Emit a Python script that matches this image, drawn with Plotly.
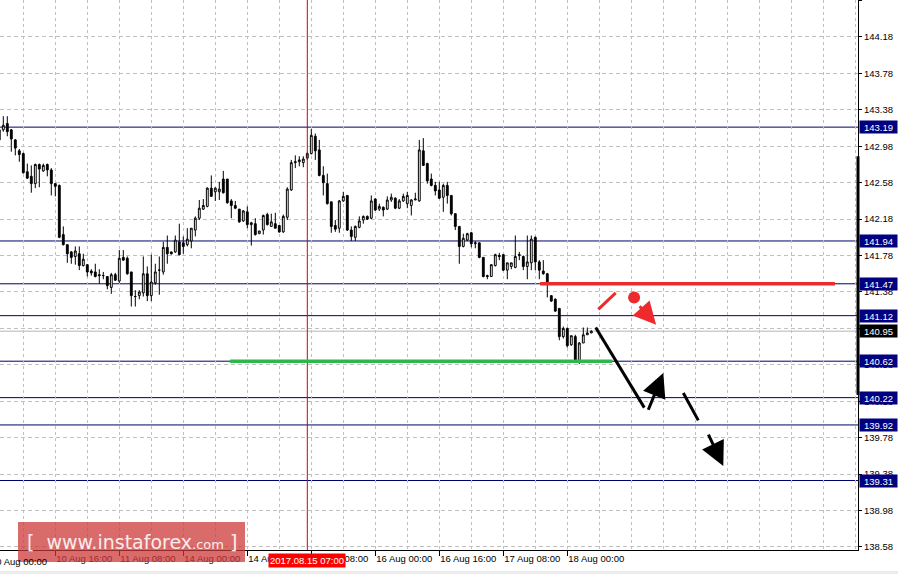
import plotly.graph_objects as go

# ---------------- data (H1 bars, index = bar number) ----------------
bar_index = list(range(-1, 148))
opens = [143.05, 143.16, 143.23, 143.16, 143.05, 142.93, 142.90, 142.70, 142.65, 142.57,
         142.78, 142.71, 142.78, 142.72, 142.57, 142.55, 142.01, 141.90, 141.82, 141.77,
         141.80, 141.67, 141.68, 141.61, 141.60, 141.57, 141.56, 141.55, 141.43, 141.57,
         141.50, 141.76, 141.75, 141.60, 141.33, 141.34, 141.37, 141.58, 141.34, 141.48,
         141.62, 141.60, 141.87, 141.82, 141.82, 141.93, 141.92, 141.90, 141.94, 142.06,
         142.19, 142.29, 142.32, 142.52, 142.48, 142.48, 142.62, 142.62, 142.38, 142.33,
         142.29, 142.16, 142.26, 142.12, 142.13, 142.02, 142.06, 142.23, 142.10, 142.13,
         142.11, 142.04, 142.20, 142.50, 142.80, 142.81, 142.80, 142.85, 142.90, 143.09,
         142.94, 142.66, 142.57, 142.37, 142.11, 142.08, 142.38, 142.44, 142.06, 141.98,
         142.09, 142.17, 142.21, 142.19, 142.40, 142.29, 142.31, 142.29, 142.39, 142.41,
         142.30, 142.38, 142.35, 142.33, 142.39, 142.38, 142.93, 142.79, 142.62, 142.55,
         142.50, 142.42, 142.55, 142.44, 142.24, 142.10, 141.88, 141.95, 142.03, 141.91,
         141.92, 141.76, 141.56, 141.55, 141.67, 141.78, 141.79, 141.62, 141.66, 141.65,
         141.78, 141.77, 141.66, 141.70, 141.98, 141.71, 141.61, 141.58, 141.34, 141.30,
         141.20, 140.89, 140.98, 140.80, 140.89, 140.61, 140.82, 140.91, 140.93]
highs = [143.21, 143.31, 143.31, 143.17, 143.06, 142.95, 142.91, 142.79, 142.77, 142.79,
         142.79, 142.79, 142.79, 142.74, 142.57, 142.56, 142.10, 141.90, 141.83, 141.88,
         141.88, 141.80, 141.68, 141.63, 141.69, 141.63, 141.60, 141.55, 141.59, 141.59,
         141.84, 141.84, 141.77, 141.60, 141.40, 141.40, 141.77, 141.66, 141.79, 141.69,
         141.77, 141.93, 142.00, 141.82, 142.00, 142.13, 141.99, 142.08, 142.08, 142.21,
         142.39, 142.40, 142.53, 142.66, 142.53, 142.59, 142.71, 142.62, 142.40, 142.38,
         142.29, 142.28, 142.32, 142.15, 142.19, 142.05, 142.23, 142.25, 142.24, 142.25,
         142.11, 142.23, 142.53, 142.83, 142.88, 142.87, 142.87, 142.92, 143.17, 143.12,
         143.05, 142.76, 142.68, 142.37, 142.17, 142.39, 142.48, 142.44, 142.10, 142.11,
         142.21, 142.22, 142.22, 142.44, 142.41, 142.35, 142.32, 142.43, 142.46, 142.42,
         142.40, 142.46, 142.48, 142.40, 142.47, 143.05, 143.07, 142.80, 142.68, 142.59,
         142.59, 142.57, 142.59, 142.44, 142.24, 142.10, 142.02, 142.03, 142.04, 141.94,
         141.92, 141.76, 141.57, 141.68, 141.80, 141.81, 141.79, 141.70, 141.70, 142.00,
         141.82, 141.78, 142.00, 142.00, 141.99, 141.73, 141.73, 141.59, 141.34, 141.31,
         141.20, 141.00, 140.99, 140.90, 140.91, 140.83, 140.99, 140.99, 140.96]
lows = [143.03, 143.14, 143.09, 142.92, 142.88, 142.81, 142.68, 142.62, 142.47, 142.52,
        142.53, 142.70, 142.65, 142.44, 142.43, 141.97, 141.89, 141.70, 141.69, 141.68,
        141.62, 141.66, 141.55, 141.56, 141.54, 141.47, 141.52, 141.41, 141.36, 141.50,
        141.48, 141.72, 141.57, 141.22, 141.22, 141.30, 141.33, 141.28, 141.28, 141.46,
        141.35, 141.57, 141.69, 141.79, 141.81, 141.78, 141.80, 141.88, 141.86, 141.99,
        142.17, 142.28, 142.31, 142.43, 142.38, 142.39, 142.46, 142.35, 142.19, 142.29,
        142.14, 142.15, 142.08, 141.89, 142.00, 142.02, 142.01, 142.11, 142.10, 142.08,
        142.03, 142.03, 142.17, 142.49, 142.74, 142.76, 142.75, 142.83, 142.89, 142.83,
        142.65, 142.44, 142.34, 142.03, 142.04, 142.03, 142.37, 142.05, 141.94, 141.94,
        142.08, 142.13, 142.17, 142.18, 142.27, 142.27, 142.21, 142.28, 142.37, 142.29,
        142.29, 142.37, 142.30, 142.22, 142.39, 142.37, 142.77, 142.57, 142.54, 142.44,
        142.40, 142.26, 142.35, 142.22, 142.06, 141.69, 141.87, 141.94, 141.87, 141.86,
        141.75, 141.54, 141.52, 141.55, 141.66, 141.73, 141.61, 141.52, 141.63, 141.64,
        141.73, 141.62, 141.52, 141.62, 141.62, 141.52, 141.57, 141.32, 141.27, 141.16,
        140.85, 140.87, 140.77, 140.79, 140.61, 140.59, 140.82, 140.91, 140.93]
closes = [143.16, 143.21, 143.14, 143.06, 142.96, 142.89, 142.69, 142.63, 142.57, 142.78,
          142.73, 142.77, 142.72, 142.57, 142.54, 141.98, 141.90, 141.80, 141.76, 141.83,
          141.67, 141.74, 141.60, 141.59, 141.55, 141.56, 141.56, 141.45, 141.57, 141.51,
          141.75, 141.73, 141.58, 141.34, 141.33, 141.38, 141.58, 141.34, 141.49, 141.60,
          141.62, 141.87, 141.80, 141.80, 141.95, 141.79, 141.88, 141.96, 142.08, 142.19,
          142.30, 142.33, 142.52, 142.43, 142.52, 142.51, 142.47, 142.36, 142.33, 142.30,
          142.15, 142.27, 142.12, 142.14, 142.01, 142.05, 142.22, 142.12, 142.15, 142.08,
          142.04, 142.21, 142.51, 142.80, 142.81, 142.83, 142.84, 142.90, 143.10, 142.93,
          142.66, 142.58, 142.35, 142.10, 142.07, 142.38, 142.43, 142.06, 141.99, 142.10,
          142.16, 142.21, 142.18, 142.38, 142.28, 142.32, 142.28, 142.39, 142.42, 142.30,
          142.38, 142.43, 142.44, 142.39, 142.40, 142.94, 142.77, 142.60, 142.55, 142.49,
          142.41, 142.55, 142.44, 142.24, 142.10, 141.88, 141.97, 142.02, 141.91, 141.92,
          141.76, 141.55, 141.55, 141.68, 141.79, 141.77, 141.62, 141.70, 141.70, 141.77,
          141.79, 141.66, 141.71, 141.96, 141.71, 141.62, 141.58, 141.47, 141.28, 141.17,
          140.89, 140.98, 140.79, 140.90, 140.63, 140.82, 140.91, 140.93, 140.95]

# x axis labels (bar index -> label)
tick_idx = [13, 29, 45, 61, 77, 93, 109, 125, 141]
tick_text = ["10 Aug 16:00", "11 Aug 08:00", "14 Aug 00:00", "14 Aug 16:00",
             "15 Aug 08:00", "16 Aug 00:00", "16 Aug 16:00", "17 Aug 08:00",
             "18 Aug 00:00"]
first_label_idx = -3
first_label = "10 Aug 00:00"
cursor_idx = 76
cursor_label = "2017.08.15 07:00"

# y axis labels
y_ticks = [138.58, 138.98, 139.38, 139.78, 140.18, 140.58, 140.98, 141.38,
           141.78, 142.18, 142.58, 142.98, 143.38, 143.78, 144.18, 144.58]

# horizontal price levels
levels = [143.19, 141.94, 141.47, 141.12, 140.62, 140.22, 139.92, 139.31]
bid_price = 140.95

# analyst drawings (bar index, price)
resistance = {"price": 141.47, "from": 134.2, "to": 207.9}
support = {"price": 140.62, "from": 56.7, "to": 152.2}
red_segment = [(148.75, 141.19), (153.1, 141.37)]
red_dot = (157.7, 141.32)
red_arrow = [(158.75, 141.24), (163.2, 141.02)]
black_segments = [[(148.1, 140.99), (160.25, 140.11)],
                  [(170.0, 140.27), (173.75, 139.97)]]
black_arrows = [[(161.1, 140.07), (165.0, 140.49)],
                [(176.1, 139.83), (180.0, 139.47)]]
scale_bar = (142.87, 140.25)

X_RANGE = [-0.825, 213.675]
Y_RANGE = [138.547, 144.586]

FONT = "Liberation Sans"
GRID = "#c0c0c0"
NAVY = "#00006a"

fig = go.Figure()

fig.add_trace(go.Candlestick(
    x=bar_index, open=opens, high=highs, low=lows, close=closes,
    increasing=dict(line=dict(color="black", width=1), fillcolor="white"),
    decreasing=dict(line=dict(color="black", width=1), fillcolor="black"),
    whiskerwidth=0, hoverinfo="skip", showlegend=False))

shapes = []
for v in levels:
    shapes.append(dict(type="line", xref="paper", x0=0, x1=1, yref="y", y0=v, y1=v,
                       line=dict(color=NAVY, width=1), layer="below"))
shapes.append(dict(type="line", xref="paper", x0=0, x1=1, yref="y", y0=bid_price, y1=bid_price,
                   line=dict(color="#b4b4b4", width=1), layer="below"))
shapes.append(dict(type="line", xref="x", x0=cursor_idx, x1=cursor_idx, yref="paper", y0=0, y1=1,
                   line=dict(color="#d40000", width=1), layer="above"))
shapes.append(dict(type="line", xref="x", x0=resistance["from"], x1=resistance["to"], yref="y",
                   y0=resistance["price"], y1=resistance["price"],
                   line=dict(color="#ee2a2d", width=3.5), layer="above"))
shapes.append(dict(type="line", xref="x", x0=support["from"], x1=support["to"], yref="y",
                   y0=support["price"], y1=support["price"],
                   line=dict(color="#2db84a", width=3.5), layer="above"))
shapes.append(dict(type="line", xref="x", yref="y", x0=red_segment[0][0], y0=red_segment[0][1],
                   x1=red_segment[1][0], y1=red_segment[1][1],
                   line=dict(color="#ee2a2d", width=3), layer="above"))
for seg in black_segments:
    shapes.append(dict(type="line", xref="x", yref="y", x0=seg[0][0], y0=seg[0][1],
                       x1=seg[1][0], y1=seg[1][1], line=dict(color="black", width=3),
                       layer="above"))
shapes.append(dict(type="line", xref="paper", x0=1, x1=1, yref="y", y0=scale_bar[0], y1=scale_bar[1],
                   line=dict(color="black", width=3), layer="above"))
shapes.append(dict(type="rect", xref="paper", x0=-0.01, x1=1.06, yref="paper",
                   y0=-0.06, y1=-21.0 / 550, fillcolor="#ececec", line=dict(width=0),
                   layer="below"))
shapes.append(dict(type="rect", xref="paper", x0=18 / 858, x1=245 / 858, yref="paper",
                   y0=-12 / 550, y1=28 / 550, fillcolor="rgba(205,55,55,0.74)",
                   line=dict(width=0), layer="above"))

fig.add_trace(go.Scatter(x=[red_dot[0]], y=[red_dot[1]], mode="markers",
                         marker=dict(color="#ee2a2d", size=12), hoverinfo="skip",
                         showlegend=False))

annotations = []
annotations.append(dict(x=red_arrow[1][0], y=red_arrow[1][1], ax=red_arrow[0][0], ay=red_arrow[0][1],
                        xref="x", yref="y", axref="x", ayref="y", text="", showarrow=True,
                        arrowhead=2, arrowsize=1.5, arrowwidth=3, arrowcolor="#ee2a2d", standoff=0))
for arr in black_arrows:
    annotations.append(dict(x=arr[1][0], y=arr[1][1], ax=arr[0][0], ay=arr[0][1],
                            xref="x", yref="y", axref="x", ayref="y", text="", showarrow=True,
                            arrowhead=2, arrowsize=1.6, arrowwidth=3, arrowcolor="black",
                            standoff=0))
for v in levels:
    annotations.append(dict(xref="paper", x=1, xanchor="left", xshift=1, yref="y", y=v,
                            text=f"{v:.2f}", showarrow=False, bgcolor="#000080",
                            font=dict(family=FONT, size=9.5, color="white"),
                            width=37, height=12, borderpad=0, align="center"))
annotations.append(dict(xref="paper", x=1, xanchor="left", xshift=1, yref="y", y=bid_price,
                        text=f"{bid_price:.2f}", showarrow=False, bgcolor="black",
                        font=dict(family=FONT, size=9.5, color="white"),
                        width=37, height=12, borderpad=0, align="center"))
# first time label lies left of the visible range -> place in paper coords
first_paper = (first_label_idx - X_RANGE[0]) / (X_RANGE[1] - X_RANGE[0])
annotations.append(dict(xref="paper", x=first_paper, xanchor="left", xshift=-2, yref="paper", y=0,
                        yanchor="top", yshift=-4, text=first_label, showarrow=False,
                        font=dict(family=FONT, size=9.5, color="black")))
annotations.append(dict(xref="x", x=cursor_idx, xanchor="center", yref="paper", y=0,
                        yanchor="top", yshift=-3, text=cursor_label, showarrow=False,
                        bgcolor="#ff0000", font=dict(family=FONT, size=9.5, color="white"),
                        borderpad=1))
annotations.append(dict(xref="paper", x=131.5 / 858, xanchor="center", yref="paper",
                        y=8 / 550, yanchor="middle", showarrow=False,
                        text="[ &nbsp;www.instaforex<span style='font-size:13px'>.com</span> ]",
                        font=dict(family="DejaVu Sans", size=19, color="#fbecec")))

fig.update_layout(
    width=898, height=574,
    margin=dict(l=0, r=40, t=0, b=24, pad=0, autoexpand=False),
    paper_bgcolor="white", plot_bgcolor="white",
    showlegend=False, hovermode=False,
    boxgap=0.35,
    shapes=shapes, annotations=annotations,
    font=dict(family=FONT, size=9.5, color="black"),
    xaxis=dict(
        range=X_RANGE, rangeslider=dict(visible=False),
        tickmode="array", tickvals=tick_idx, ticktext=tick_text, tickangle=0,
        ticks="outside", ticklen=5, tickcolor="black", tickwidth=1,
        ticklabelposition="outside right",
        showline=True, linecolor="black", linewidth=1,
        showgrid=True, gridcolor=GRID, griddash="3px,3px", gridwidth=1,
        minor=dict(tick0=5, dtick=8, showgrid=True, gridcolor=GRID,
                   griddash="3px,3px", gridwidth=1, ticks=""),
        zeroline=False, fixedrange=True, automargin=False,
        tickfont=dict(family=FONT, size=9.5, color="black"),
    ),
    yaxis=dict(
        side="right", range=Y_RANGE,
        tickmode="array", tickvals=y_ticks, ticktext=[f"{v:.2f}" for v in y_ticks],
        ticks="outside", ticklen=3, tickcolor="black",
        showline=True, linecolor="black", linewidth=1,
        showgrid=True, gridcolor=GRID, griddash="4px,3px", gridwidth=1,
        zeroline=False, fixedrange=True, automargin=False,
        tickfont=dict(family=FONT, size=9.5, color="black"),
    ),
)

fig.write_html("out.html", config={"displayModeBar": False},
               post_script="document.body.style.margin='0';document.body.style.padding='0';")
